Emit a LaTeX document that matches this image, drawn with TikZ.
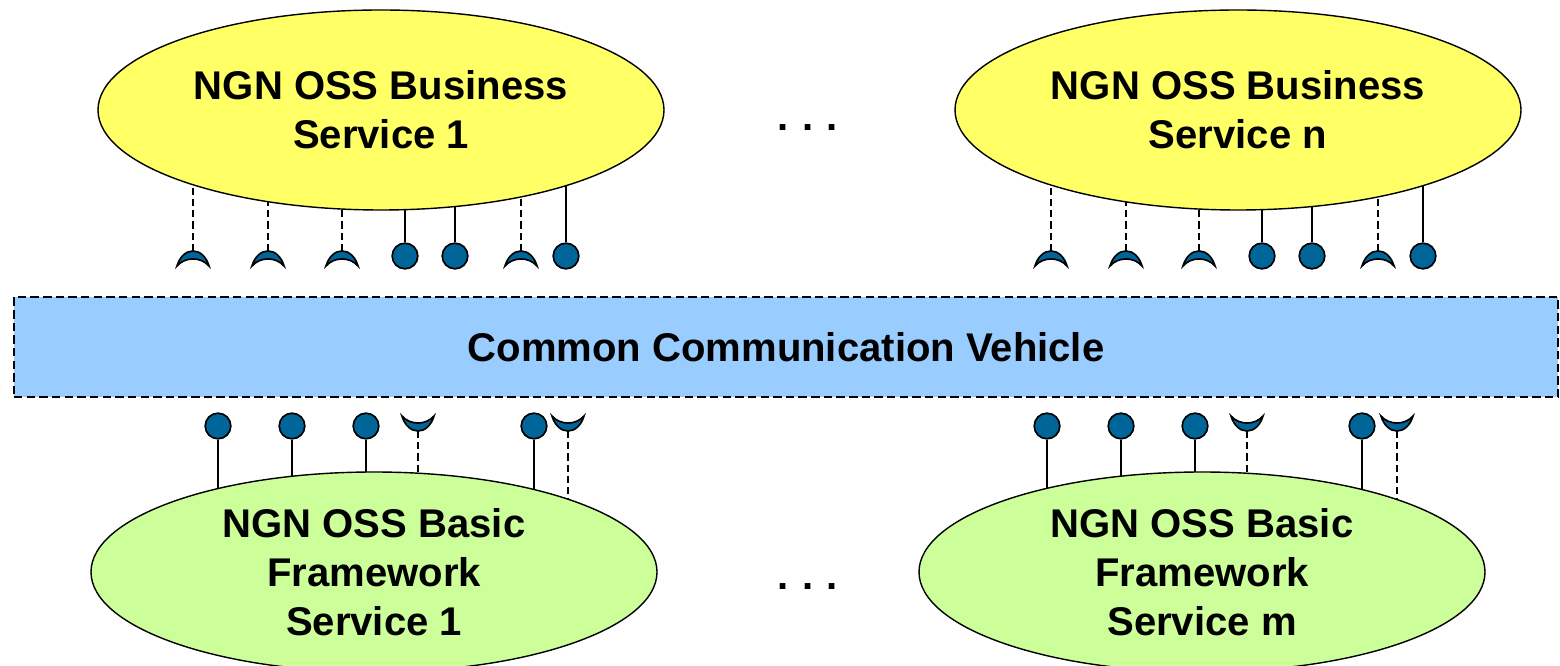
\documentclass[tikz,border=0pt]{standalone}
\usepackage{fontspec}
\setmainfont{Liberation Sans}
\usetikzlibrary{shapes.geometric,backgrounds}

\definecolor{bizyellow}{HTML}{FFFF66}
\definecolor{basegreen}{HTML}{CCFF99}
\definecolor{busblue}{HTML}{99CCFF}
\definecolor{plugblue}{HTML}{006699}

\tikzset{
    service/.style={ellipse, draw, line width=1pt, minimum width=14.15cm,
        minimum height=5cm, inner sep=0pt, align=center,
        font=\bfseries\fontsize{28.5}{35}\selectfont},
    bus/.style={rectangle, draw, fill=busblue, line width=1.4pt,
        dash pattern=on 6pt off 3pt, minimum width=38.6cm, minimum height=2.5cm,
        font=\bfseries\fontsize{28.5}{35}\selectfont},
    ball/.style={circle, draw, fill=plugblue, line width=1.2pt,
        minimum size=0.64cm, inner sep=0pt},
    wire/.style={line width=1pt},
    dashwire/.style={line width=1.9pt, dash pattern=on 5pt off 3pt},
    socket/.pic={
        \draw[fill=plugblue, line width=1.2pt, line join=miter]
            (-0.4,-0.375) .. controls (-0.25,0.125) and (0.25,0.125) .. (0.4,-0.375)
            .. controls (0.2,-0.14) and (-0.2,-0.14) .. (-0.4,-0.375) -- cycle;
    }
}

\begin{document}
\begin{tikzpicture}
    \useasboundingbox (0,0) rectangle (39,16.625);

    \node[service, fill=bizyellow] (biz1) at (9.525,13.875)
        {NGN OSS Business\\Service 1};
    \node[service, fill=bizyellow] (bizn) at (30.95,13.875)
        {NGN OSS Business\\Service n};
    \node[service, fill=basegreen] (base1) at (9.35,2.325)
        {NGN OSS Basic\\Framework\\Service 1};
    \node[service, fill=basegreen] (basem) at (30.05,2.325)
        {NGN OSS Basic\\Framework\\Service m};
    \node[bus] (ccv) at (19.65,7.95) {Common Communication Vehicle};

    \node[anchor=base, font=\bfseries\fontsize{28.5}{35}\selectfont]
        (moretop) at (20.2,13.35) {.\,\,.\,\,.};
    \node[anchor=base, font=\bfseries\fontsize{28.5}{35}\selectfont]
        (morebot) at (20.2,1.9) {.\,\,.\,\,.};

    % offered interfaces (balls) and required ones (sockets), top row
    \foreach \x [count=\i] in {10.125,11.375,14.15,31.55,32.8,35.575} {
        \node[ball] (tb\i) at (\x,10.225) {};
        \begin{pgfonlayer}{background}
            \draw[wire] (tb\i) -- (tb\i |- biz1.center);
        \end{pgfonlayer}
    }
    \foreach \x [count=\i] in {4.825,6.7,8.55,13.025,26.275,28.15,29.975,34.45} {
        \coordinate (ts\i) at (\x,10.35);
        \pic at (ts\i) {socket};
        \begin{pgfonlayer}{background}
            \draw[dashwire] (ts\i) -- (ts\i |- biz1.center);
        \end{pgfonlayer}
    }

    % bottom row
    \foreach \x [count=\i] in {5.45,7.3,9.15,13.35,26.175,28.025,29.875,34.05} {
        \node[ball] (bb\i) at (\x,5.975) {};
        \begin{pgfonlayer}{background}
            \draw[wire] (bb\i) -- (bb\i |- base1.center);
        \end{pgfonlayer}
    }
    \foreach \x [count=\i] in {10.45,14.2,31.175,34.925} {
        \coordinate (bs\i) at (\x,5.85);
        \pic[rotate=180] at (bs\i) {socket};
        \begin{pgfonlayer}{background}
            \draw[dashwire] (bs\i) -- (bs\i |- base1.center);
        \end{pgfonlayer}
    }
\end{tikzpicture}
\end{document}
